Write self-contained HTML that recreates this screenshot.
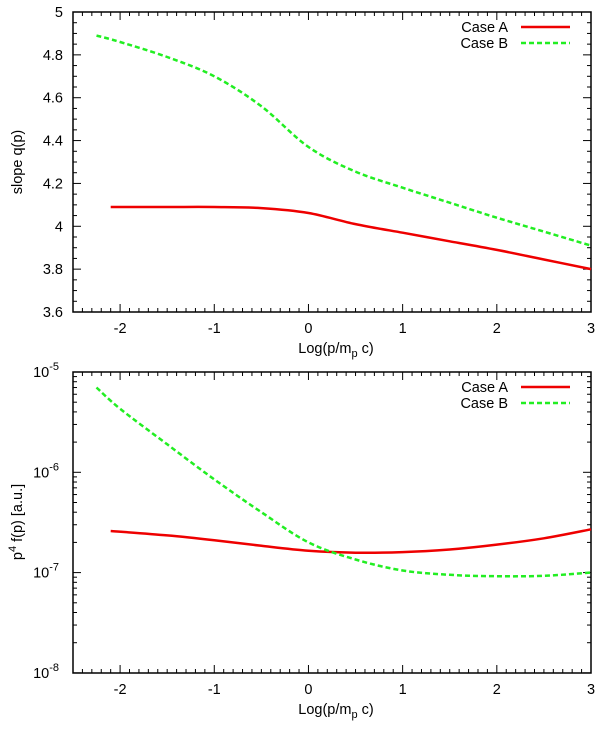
<!DOCTYPE html>
<html><head><meta charset="utf-8"><style>
body{margin:0;background:#fff}
svg text{font-family:"Liberation Sans",sans-serif;font-size:14.5px;fill:#000}
</style></head><body>
<svg id="c" width="600" height="729"></svg>
<script>
const xs=[-2.1,-1.5,-1,-0.5,0,0.5,1,1.5,2,2.5,3];
const topA=[4.09,4.09,4.09,4.085,4.062,4.01,3.97,3.93,3.89,3.845,3.80];
const xsB=[-2.25,-2,-1.5,-1,-0.5,0,0.5,1,1.5,2,2.5,3];
const topB=[4.89,4.86,4.79,4.70,4.56,4.37,4.255,4.18,4.11,4.04,3.975,3.91];
const botA=[2.6e-7,2.35e-7,2.1e-7,1.85e-7,1.65e-7,1.58e-7,1.6e-7,1.7e-7,1.9e-7,2.2e-7,2.7e-7];
const botB=[7e-6,4.3e-6,1.9e-6,8.5e-7,4e-7,2e-7,1.35e-7,1.05e-7,9.5e-8,9.2e-8,9.3e-8,1e-7];
const xTicks=[-2,-1,0,1,2,3];
const topTicks=[3.6,3.8,4,4.2,4.4,4.6,4.8,5];
const NS="http://www.w3.org/2000/svg",svg=document.getElementById('c');
function mk(t,a,p){const e=document.createElementNS(NS,t);for(const k in a)e.setAttribute(k,a[k]);(p||svg).appendChild(e);return e;}
const L=73,R=591;
const X=v=>L+(v+2.5)/5.5*(R-L);
const Yt=v=>12+(5-v)/1.4*300;
const Yb=v=>372+(-5-Math.log10(v))*100.3;
function frame(top,bot,name){
  const g=mk('g',{});
  mk('rect',{x:L,y:top,width:R-L,height:bot-top,fill:'none',stroke:'#000','stroke-width':1.5},g);
  for(let v=-2.4;v<=3.001;v+=0.1){const x=X(v);const big=Math.abs(v-Math.round(v))<0.01;const l=big?8:4;
    mk('line',{x1:x,x2:x,y1:bot,y2:bot-l,stroke:'#000'},g);mk('line',{x1:x,x2:x,y1:top,y2:top+l,stroke:'#000'},g);}
  xTicks.forEach(v=>{const t=mk('text',{x:X(v),y:bot+21,'text-anchor':'middle'},g);t.textContent=v;});
  const t=mk('text',{x:(L+R)/2+4,y:bot+41,'text-anchor':'middle'},g);
  t.innerHTML='Log(p/m<tspan font-size="11" dy="4">p</tspan><tspan dy="-4"> c)</tspan>';
  return g;
}
function line(xv,yv,fy,col,dash,name){
  const P=xv.map((x,i)=>[X(x),fy(yv[i])]);
  let d='M'+P[0][0].toFixed(1)+','+P[0][1].toFixed(1);
  for(let i=0;i<P.length-1;i++){const p0=P[Math.max(0,i-1)],p1=P[i],p2=P[i+1],p3=P[Math.min(P.length-1,i+2)];
    const c1=[p1[0]+(p2[0]-p0[0])/6,p1[1]+(p2[1]-p0[1])/6],c2=[p2[0]-(p3[0]-p1[0])/6,p2[1]-(p3[1]-p1[1])/6];
    d+='C'+c1.map(v=>v.toFixed(1))+' '+c2.map(v=>v.toFixed(1))+' '+p2.map(v=>v.toFixed(1));}
  const p=mk('path',{d:d,fill:'none',stroke:col,'stroke-width':2.5,'stroke-dasharray':dash||'none'});
  
}
function legend(y,name){
  const g=mk('g',{});
  [['Case A','#e00',''],['Case B','#2e2','5,3']].forEach((d,i)=>{
    const t=mk('text',{x:508,y:y+i*16+5,'text-anchor':'end'},g);t.textContent=d[0];
    mk('line',{x1:521,x2:570,y1:y+i*16,y2:y+i*16,stroke:d[1],'stroke-width':2.5,'stroke-dasharray':d[2]||'none'},g);});
}
frame(12,312,'top-plot');
topTicks.forEach(v=>{const y=Yt(v);mk('line',{x1:L,x2:L+8,y1:y,y2:y,stroke:'#000'});mk('line',{x1:R,x2:R-8,y1:y,y2:y,stroke:'#000'});
  for(let k=1;k<4&&v<5;k++){const yy=Yt(v+k*0.05);mk('line',{x1:L,x2:L+4,y1:yy,y2:yy,stroke:'#000'});mk('line',{x1:R,x2:R-4,y1:yy,y2:yy,stroke:'#000'});}
  const t=mk('text',{x:L-10,y:y+5,'text-anchor':'end'});t.textContent=v;});
let yt=mk('text',{x:22,y:162,'text-anchor':'middle',transform:'rotate(-90 22 162)'});yt.textContent='slope q(p)';

line(xs,topA,Yt,'#e00','','top-case-a');
line(xsB,topB,Yt,'#2e2','5,3','top-case-b');
legend(27,'top-legend');
frame(372,673,'bottom-plot');
for(let e=-8;e<=-5;e++){const y=Yb(Math.pow(10,e));mk('line',{x1:L,x2:L+8,y1:y,y2:y,stroke:'#000'});mk('line',{x1:R,x2:R-8,y1:y,y2:y,stroke:'#000'});
  const t=mk('text',{x:L-14,y:y+5,'text-anchor':'end'});t.innerHTML='10<tspan font-size="11" dy="-7">'+e+'</tspan>';
  if(e<-5)for(let m=2;m<10;m++){const yy=Yb(m*Math.pow(10,e));mk('line',{x1:L,x2:L+4,y1:yy,y2:yy,stroke:'#000'});mk('line',{x1:R,x2:R-4,y1:yy,y2:yy,stroke:'#000'});}}
let yb=mk('text',{x:22,y:522,'text-anchor':'middle',transform:'rotate(-90 22 522)'});
yb.innerHTML='p<tspan font-size="11" dy="-6">4</tspan><tspan dy="6"> f(p)  [a.u.]</tspan>';

line(xs,botA,Yb,'#e00','','bottom-case-a');
line(xsB,botB,Yb,'#2e2','5,3','bottom-case-b');
legend(387,'bottom-legend');
</script>
</body></html>
